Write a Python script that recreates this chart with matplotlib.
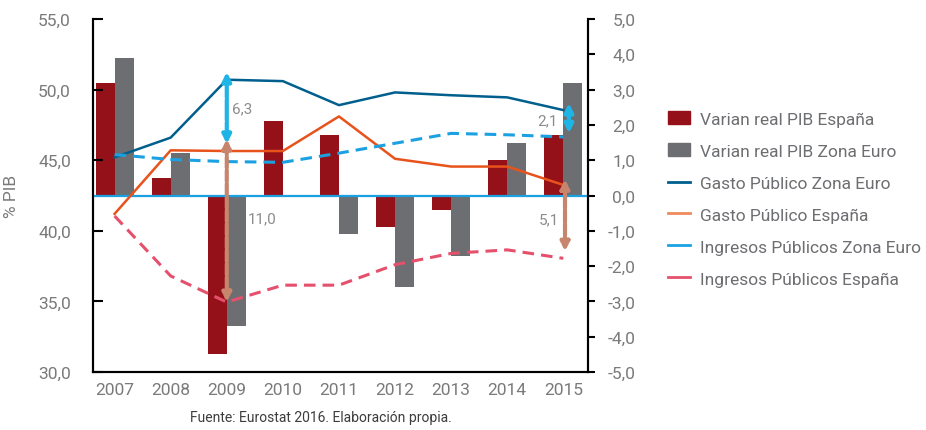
import numpy as np
import matplotlib
matplotlib.use("Agg")
import matplotlib.pyplot as plt
from matplotlib.patches import Patch
from matplotlib.lines import Line2D

# -------------------------
# DATOS
# -------------------------
anios = ["2007", "2008", "2009", "2010", "2011", "2012", "2013", "2014", "2015"]

# variación real del PIB (eje derecho)
pib_espana = [3.2, 0.5, -4.5, 2.1, 1.7, -0.9, -0.4, 1.0, 1.7]
pib_zona_euro = [3.9, 1.2, -3.7, 0.0, -1.1, -2.6, -1.7, 1.5, 3.2]

# % PIB (eje izquierdo)
gasto_zona_euro = [45.2, 46.6, 50.7, 50.6, 48.9, 49.8, 49.6, 49.45, 48.55]
gasto_espana = [41.2, 45.7, 45.65, 45.65, 48.1, 45.1, 44.55, 44.55, 43.25]
ingresos_zona_euro = [45.4, 45.05, 44.9, 44.85, 45.5, 46.2, 46.9, 46.8, 46.65]
ingresos_espana = [41.05, 36.8, 34.95, 36.15, 36.15, 37.6, 38.4, 38.65, 38.05]

# flechas de déficit: (posición x, extremo superior, extremo inferior, texto)
flecha_x = [2.0, 2.0, 8.1, 8.03]
flecha_sup = [51.25, 46.5, 49.05, 43.65]
flecha_inf = [46.15, 34.95, 46.9, 38.55]
flecha_txt = ["6,3", "11,0", "2,1", "5,1"]

# -------------------------
# ESTILO
# -------------------------
plt.rcParams["font.family"] = ["Roboto", "DejaVu Sans"]

c_rojo = "#941119"
c_gris = "#6d6e71"
c_gasto_ze = "#005f8d"
c_gasto_es = "#e8531c"
c_ingr_ze = "#1ba1e2"
c_ingr_es = "#e5506c"
c_flecha_azul = "#1fb4e6"
c_flecha_marron = "#c8856d"
c_texto = "#7a7a7a"

fig = plt.figure(figsize=(9.26, 4.31), dpi=100)
ax = fig.add_axes([93 / 926, 1 - 373 / 431, (588 - 93) / 926, (373 - 20) / 431])
ax2 = ax.twinx()
ax.set_zorder(ax2.get_zorder() + 1)
ax.patch.set_visible(False)

x = np.arange(len(anios))
ancho = 0.34

# barras en el eje derecho
ax2.bar(x - ancho / 2, pib_espana, ancho, color=c_rojo, zorder=2)
ax2.bar(x + ancho / 2, pib_zona_euro, ancho, color=c_gris, zorder=2)
ax2.axhline(0, color=c_ingr_ze, lw=1.6, zorder=3)

# líneas en el eje izquierdo
ax.plot(x, gasto_zona_euro, color=c_gasto_ze, lw=1.8)
ax.plot(x, gasto_espana, color=c_gasto_es, lw=1.8)
ax.plot(x, ingresos_zona_euro, color=c_ingr_ze, lw=2.2, dashes=(3.8, 2.3))
ax.plot(x, ingresos_espana, color=c_ingr_es, lw=2.2, dashes=(3.8, 2.3))

# flechas
colores_flecha = [c_flecha_azul, c_flecha_marron, c_flecha_azul, c_flecha_marron]
pos_txt = [(2.1, 48.7, "left"), (2.38, 40.9, "left"), (7.72, 47.8, "center"), (7.74, 40.8, "center")]
for xf, ys, yi, t, c, (tx, ty, ha) in zip(flecha_x, flecha_sup, flecha_inf, flecha_txt,
                                          colores_flecha, pos_txt):
    patron = (0, (5, 0.5)) if c == c_flecha_azul else (0, (2.6, 0.6))
    ax.annotate("", xy=(xf, yi), xytext=(xf, ys),
                arrowprops=dict(arrowstyle="<|-|>,head_length=0.5,head_width=0.25",
                                color=c, lw=3, linestyle=patron,
                                shrinkA=0, shrinkB=0))
    ax.text(tx, ty, t, color="#8c8c8c", fontsize=11, ha=ha, va="center")

# ejes
ax.set_xlim(-0.385, 8.44)
ax.set_ylim(30, 55)
ax2.set_ylim(-5, 5)
ax.set_yticks(np.arange(30, 55.1, 5))
ax.set_yticklabels([f"{v:.1f}".replace(".", ",") for v in np.arange(30, 55.1, 5)])
ax2.set_yticks(np.arange(-5, 5.1, 1))
ax2.set_yticklabels([f"{v:.1f}".replace(".", ",") for v in np.arange(-5, 5.1, 1)])
ax.set_xticks(x)
ax.set_xticklabels(anios)

ax.tick_params(axis="y", direction="in", length=7, width=1.5, pad=16,
               labelsize=12.5, labelcolor=c_texto)
ax.tick_params(axis="x", length=0, pad=7, labelsize=12.5, labelcolor=c_texto)
ax2.tick_params(axis="y", direction="out", length=5, width=1.5, pad=29,
                labelsize=12.5, labelcolor=c_texto)
for lab in ax2.get_yticklabels():
    lab.set_horizontalalignment("right")

for s in ["left", "bottom", "right"]:
    ax.spines[s].set_linewidth(1.5)
    ax2.spines[s].set_linewidth(1.5)
ax.spines["top"].set_visible(False)
ax2.spines["top"].set_visible(False)

ax.set_ylabel("% PIB", color=c_texto, fontsize=12.5, labelpad=14)

# leyenda
handles = [
    Patch(color=c_rojo),
    Patch(color=c_gris),
    Line2D([], [], color=c_gasto_ze, lw=2),
    Line2D([], [], color="#ef8a5c", lw=2),
    Line2D([], [], color=c_ingr_ze, lw=2),
    Line2D([], [], color=c_ingr_es, lw=2),
]
etiquetas = ["Varian real PIB España", "Varian real PIB Zona Euro", "Gasto Público Zona Euro",
             "Gasto Público España", "Ingresos Públicos Zona Euro", "Ingresos Públicos España"]
leg = fig.legend(handles, etiquetas, loc="center left", bbox_to_anchor=(652 / 926, 1 - 200 / 431),
                 frameon=False, fontsize=12.5, handlelength=1.3, handletextpad=0.55,
                 labelspacing=0.97, labelcolor=c_gris)

fig.text(321 / 926, 1 - 418 / 431, "Fuente: Eurostat 2016. Elaboración propia.",
         ha="center", va="center", fontsize=10, color="#3c3c3c")

fig.savefig("out.png", dpi=100)
